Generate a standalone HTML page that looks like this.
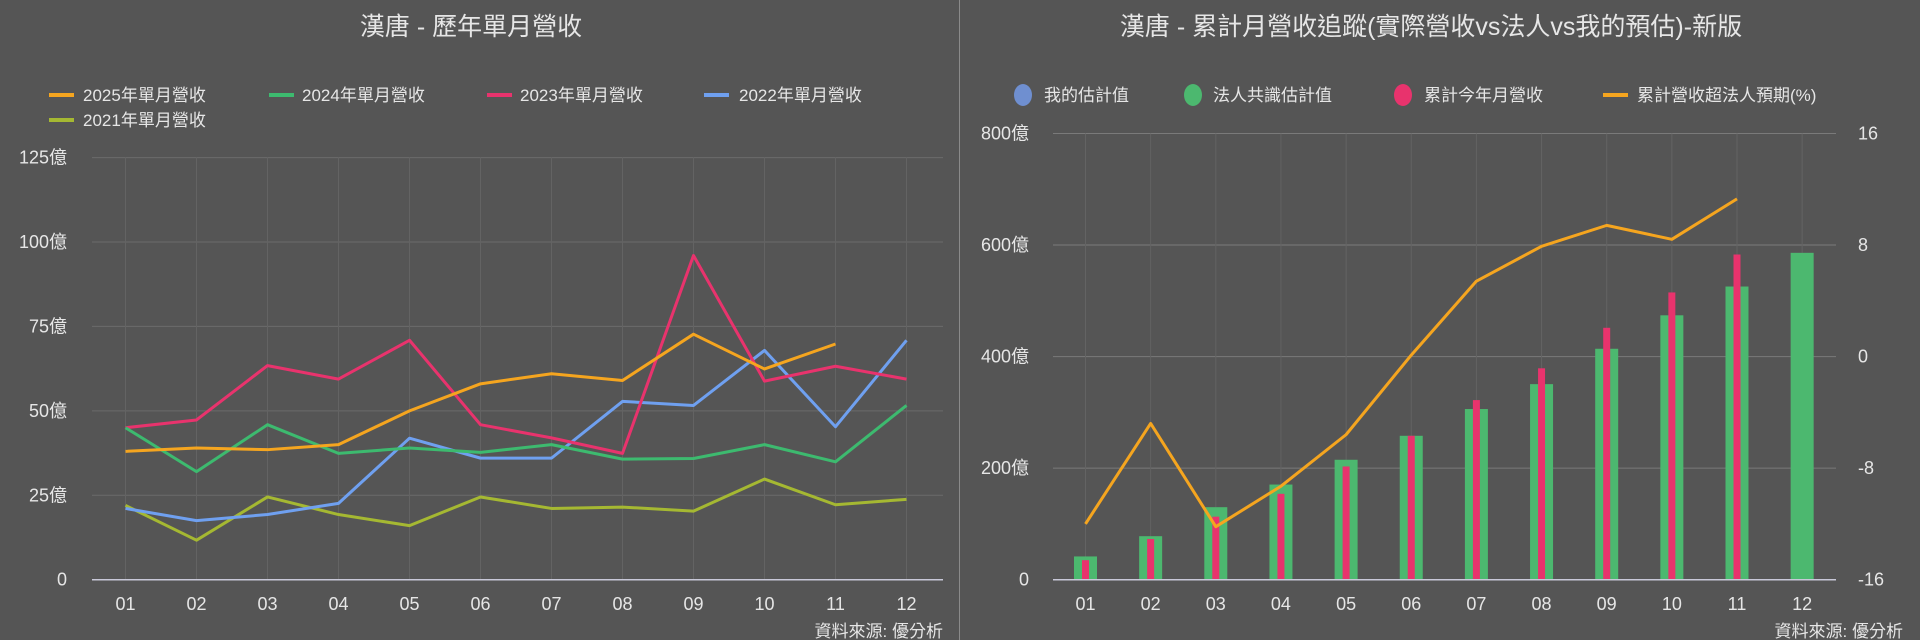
<!DOCTYPE html>
<html><head><meta charset="utf-8"><style>
body{margin:0;background:#555;}
svg{display:block;font-family:"Liberation Sans","Noto Sans CJK TC",sans-serif;}
text{fill:#e6e6e6;}
</style></head><body>
<svg id="s" width="1920" height="640" xmlns="http://www.w3.org/2000/svg">
<rect width="1920" height="640" fill="#555555"/>
<line x1="959.5" y1="0" x2="959.5" y2="640" stroke="#8a8a8a" stroke-width="1"/>
<g id="L"></g><g id="R"></g>
<text x="471" y="35" font-size="25" text-anchor="middle">漢唐 - 歷年單月營收</text>
<g font-size="17">
<line x1="49" y1="95" x2="74" y2="95" stroke="#f5a51f" stroke-width="4"/><text x="83" y="101">2025年單月營收</text>
<line x1="269" y1="95" x2="294" y2="95" stroke="#3dba6f" stroke-width="4"/><text x="302" y="101">2024年單月營收</text>
<line x1="487" y1="95" x2="512" y2="95" stroke="#e8336d" stroke-width="4"/><text x="520" y="101">2023年單月營收</text>
<line x1="704" y1="95" x2="729" y2="95" stroke="#6fa0f0" stroke-width="4"/><text x="739" y="101">2022年單月營收</text>
<line x1="49" y1="120" x2="74" y2="120" stroke="#a5b832" stroke-width="4"/><text x="83" y="126">2021年單月營收</text>
</g>
<text x="943" y="637" font-size="17" text-anchor="end">資料來源: 優分析</text>
<text x="1903" y="637" font-size="17" text-anchor="end">資料來源: 優分析</text>
<text x="1431" y="35" font-size="25" text-anchor="middle">漢唐 - 累計月營收追蹤(實際營收vs法人vs我的預估)-新版</text>
<g font-size="17">
<ellipse cx="1023" cy="95" rx="9" ry="11" fill="#6f8fd0"/><text x="1044" y="101">我的估計值</text>
<ellipse cx="1193" cy="95" rx="9" ry="11" fill="#4cb86f"/><text x="1213" y="101">法人共識估計值</text>
<ellipse cx="1403" cy="95" rx="9" ry="11" fill="#e8336d"/><text x="1424" y="101">累計今年月營收</text>
<line x1="1603" y1="95" x2="1628" y2="95" stroke="#f5a51f" stroke-width="4"/><text x="1637" y="101">累計營收超法人預期(%)</text>
</g>
</svg>
<script>
const NS="http://www.w3.org/2000/svg";
function el(p,t,a,txt){const e=document.createElementNS(NS,t);for(const k in a)e.setAttribute(k,a[k]);if(txt!==undefined)e.textContent=txt;p.appendChild(e);return e;}
const L=document.getElementById('L'),R=document.getElementById('R');
const M=['01','02','03','04','05','06','07','08','09','10','11','12'];
const Y0=579.7;
const lx=i=>125.5+i*71, ly=v=>Y0-v*3.377;
for(let v=25;v<=125;v+=25)el(L,'line',{x1:92,x2:943,y1:ly(v),y2:ly(v),stroke:'#6b6b6b','stroke-width':1});
for(let i=0;i<12;i++)el(L,'line',{x1:lx(i),x2:lx(i),y1:157,y2:Y0,stroke:'#636363','stroke-width':1});
el(L,'line',{x1:92,x2:943,y1:Y0,y2:Y0,stroke:'#c8c8d8','stroke-width':1.5});
[[0,'0'],[25,'25億'],[50,'50億'],[75,'75億'],[100,'100億'],[125,'125億']].forEach(([v,t])=>el(L,'text',{x:67,y:ly(v)+6,'font-size':18,'text-anchor':'end'},t));
M.forEach((m,i)=>el(L,'text',{x:lx(i),y:610,'font-size':18,'text-anchor':'middle'},m));
const S=[
['#a5b832',[22,11.7,24.5,19.3,16,24.5,21.1,21.5,20.3,29.8,22.2,23.8]],
['#6fa0f0',[21.1,17.5,19.3,22.6,41.9,36,36,52.8,51.6,67.9,45.3,70.9]],
['#e8336d',[45,47.3,63.4,59.4,70.9,45.9,42,37.4,96,58.8,63.2,59.4]],
['#3dba6f',[45,32,45.9,37.4,39,37.7,40,35.7,35.9,40,34.9,51.6]],
['#f5a51f',[38,39,38.5,40,50,58,61,59,72.7,62.4,69.8]]];
S.forEach(([c,d])=>el(L,'polyline',{points:d.map((v,i)=>lx(i)+','+ly(v)).join(' '),fill:'none',stroke:c,'stroke-width':3,'stroke-linejoin':'round'}));
const rx=i=>1085.5+i*65.15, ry=v=>Y0-v*0.5578, rr=v=>Y0-(v+16)*13.95;
for(let v=200;v<=800;v+=200)el(R,'line',{x1:1053,x2:1836,y1:ry(v),y2:ry(v),stroke:'#7a7a7a','stroke-width':1});
for(let i=0;i<12;i++)el(R,'line',{x1:rx(i),x2:rx(i),y1:133.5,y2:Y0,stroke:'#636363','stroke-width':1});
[[0,'0'],[200,'200億'],[400,'400億'],[600,'600億'],[800,'800億']].forEach(([v,t])=>el(R,'text',{x:1029,y:ry(v)+6,'font-size':18,'text-anchor':'end'},t));
[16,8,0,-8,-16].forEach(v=>el(R,'text',{x:1858,y:rr(v)+6,'font-size':18},String(v)));
M.forEach((m,i)=>el(R,'text',{x:rx(i),y:610,'font-size':18,'text-anchor':'middle'},m));
const G=[41.7,78,130,170.6,215,258,306,350.6,414,474,525.6,586];
const P=[35,73,113,154,203,258,322,379,451.6,515,583];
G.forEach((v,i)=>el(R,'rect',{x:rx(i)-11.5,y:ry(v),width:23,height:v*0.5578,fill:'#4cb86f'}));
P.forEach((v,i)=>el(R,'rect',{x:rx(i)-3.5,y:ry(v),width:7,height:v*0.5578,fill:'#e8336d'}));
el(R,'line',{x1:1053,x2:1836,y1:Y0,y2:Y0,stroke:'#c8c8d8','stroke-width':1.5});
const O=[-12,-4.8,-12.2,-9.3,-5.6,0.1,5.4,7.9,9.4,8.4,11.3];
el(R,'polyline',{points:O.map((v,i)=>rx(i)+','+rr(v)).join(' '),fill:'none',stroke:'#f5a51f','stroke-width':3,'stroke-linejoin':'round'});
</script>
</body></html>
